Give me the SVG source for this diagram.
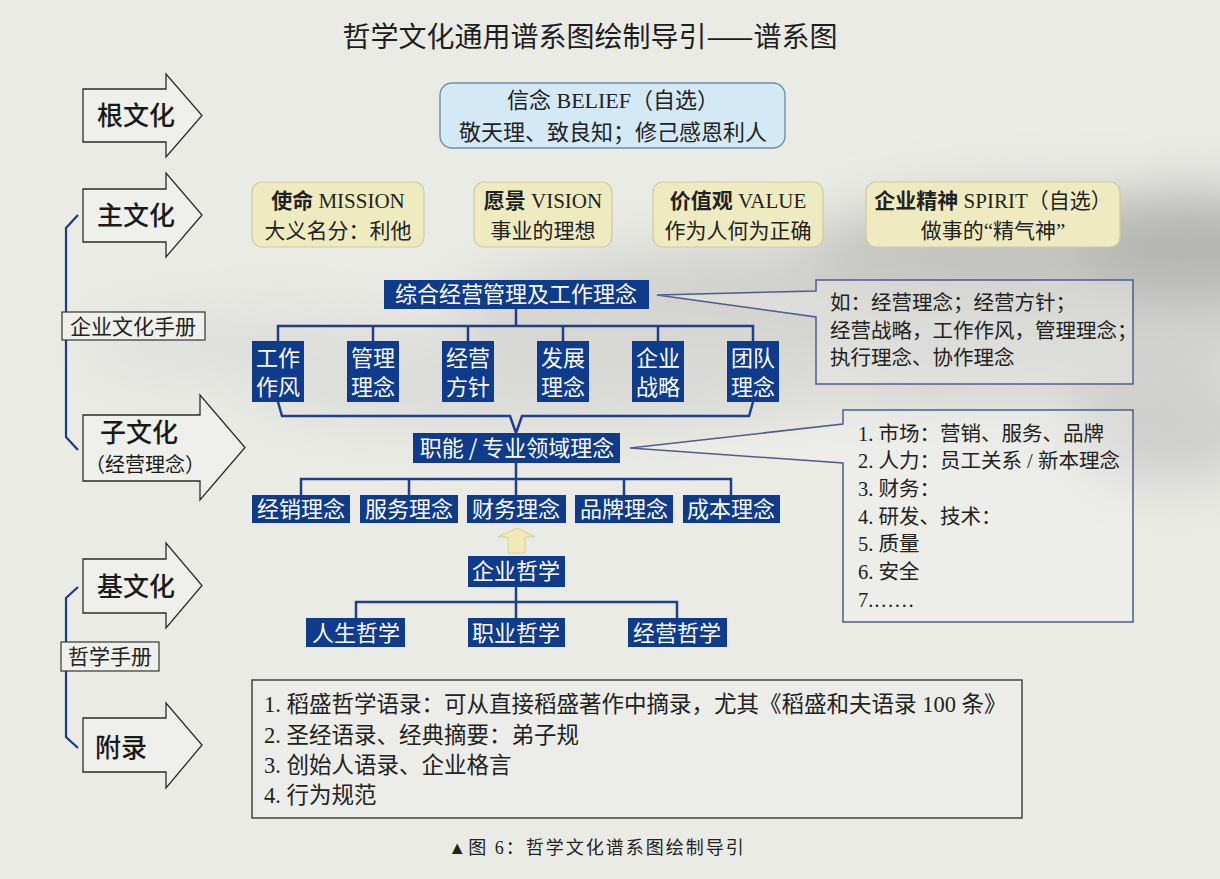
<svg xmlns="http://www.w3.org/2000/svg" width="1220" height="879" viewBox="0 0 1220 879">
<defs>
<filter id="blur" filterUnits="userSpaceOnUse" x="0" y="0" width="1220" height="879"><feGaussianBlur stdDeviation="26"/></filter>
<style>
.arrow{fill:#efefeb;stroke:#2b2b2b;stroke-width:1.3}
.arrowT{font-family:"Noto Sans CJK SC","Noto Sans",sans-serif;font-size:26px;fill:#1a1a1a;font-weight:500}
.yel{fill:#efebc1;stroke:#d0cb9a;stroke-width:1.2}
.yt{font-family:"Liberation Serif","Noto Sans CJK SC",serif;font-size:21px;fill:#222;text-anchor:middle}
.cjkb{font-family:"Noto Sans CJK SC",sans-serif;font-weight:600}
.blue{fill:#0f3b8c}
.bt{font-family:"Noto Sans CJK SC","Noto Sans",sans-serif;font-size:22px;fill:#fff;text-anchor:middle}
.conn{fill:none;stroke:#1c3f8f;stroke-width:2.5}
.brk{fill:none;stroke:#1d3a86;stroke-width:2.2}
.call{fill:#f1f1ed;fill-opacity:0.35;stroke:#4f5c8c;stroke-width:1.5}
.st{font-family:"Liberation Serif","Noto Sans CJK SC",serif;font-size:20.5px;fill:#222}
.ap{font-family:"Liberation Serif","Noto Sans CJK SC",serif;font-size:22.5px;fill:#222}
.lab{fill:#efefeb;stroke:#333;stroke-width:1.2}
</style>
</defs>
<rect width="1220" height="879" fill="#ebebe6"/>
<g filter="url(#blur)">
<ellipse cx="880" cy="320" rx="430" ry="85" fill="#d2d2cf"/>
<ellipse cx="1060" cy="250" rx="260" ry="55" fill="#c4c4c1"/>
<ellipse cx="1190" cy="245" rx="110" ry="55" fill="#b6b6b3"/>
<ellipse cx="560" cy="375" rx="330" ry="55" fill="#d9d9d5"/>
<ellipse cx="280" cy="345" rx="200" ry="40" fill="#dfdfdb"/>
<ellipse cx="1170" cy="430" rx="100" ry="55" fill="#cfcfcc"/>
</g>

<text x="590" y="47" text-anchor="middle" font-family="Noto Sans CJK SC,sans-serif" font-size="28" fill="#1e1e1e">哲学文化通用谱系图绘制导引——谱系图</text>

<g id="brackets">
<path class="brk" d="M78,215 L66,228 V437 L78,450"/>
<path class="brk" d="M78,587 L66,598 V737 L78,748"/>
</g>
<g id="label-handbook">
<rect class="lab" x="62" y="312" width="143" height="28"/>
<text x="133" y="334" text-anchor="middle" font-family="Liberation Serif,Noto Sans CJK SC,serif" font-size="21" fill="#222">企业文化手册</text>
</g>
<g id="label-philo">
<rect class="lab" x="61" y="642" width="98" height="29"/>
<text x="110" y="664" text-anchor="middle" font-family="Liberation Serif,Noto Sans CJK SC,serif" font-size="21" fill="#222">哲学手册</text>
</g>

<g id="arrow-root">
<path class="arrow" d="M83,89 H166 V74 L202,115.5 L166,157 V142 H83 Z"/>
<text class="arrowT" x="97" y="125">根文化</text>
</g>
<g id="arrow-main">
<path class="arrow" d="M83,189 H166 V173 L202,215 L166,257 V242 H83 Z"/>
<text class="arrowT" x="97" y="225">主文化</text>
</g>
<g id="arrow-sub">
<path class="arrow" d="M83,415 H200 V395 L245,447.5 L200,500 V481 H83 Z"/>
<text class="arrowT" x="100" y="442">子文化</text>
<text x="145" y="472" text-anchor="middle" font-family="Noto Sans CJK SC,sans-serif" font-size="20" fill="#1a1a1a">（经营理念）</text>
</g>
<g id="arrow-base">
<path class="arrow" d="M83,559 H166 V543 L202,585.5 L166,628 V613 H83 Z"/>
<text class="arrowT" x="97" y="596">基文化</text>
</g>
<g id="arrow-appendix">
<path class="arrow" d="M83,718 H166 V703 L202,745 L166,788 V772 H83 Z"/>
<text class="arrowT" x="95" y="757">附录</text>
</g>

<g id="belief">
<rect x="440" y="83" width="345" height="65" rx="12" fill="#d3e9f6" stroke="#6e8fae" stroke-width="1.4"/>
<text x="613" y="108" text-anchor="middle" font-family="Liberation Serif,Noto Sans CJK SC,serif" font-size="22" fill="#222"><tspan font-family="Noto Sans CJK SC,sans-serif">信念</tspan> BELIEF<tspan font-family="Noto Sans CJK SC,sans-serif">（自选）</tspan></text>
<text x="613" y="140" text-anchor="middle" font-family="Noto Sans CJK SC,sans-serif" font-size="22" fill="#222">敬天理、致良知；修己感恩利人</text>
</g>

<g id="mission">
<rect class="yel" x="252" y="182" width="172" height="65" rx="10"/>
<text class="yt" x="338" y="208"><tspan class="cjkb">使命</tspan> MISSION</text>
<text class="yt" x="338" y="238">大义名分：利他</text>
</g>
<g id="vision">
<rect class="yel" x="474" y="182" width="138" height="65" rx="10"/>
<text class="yt" x="543" y="208"><tspan class="cjkb">愿景</tspan> VISION</text>
<text class="yt" x="543" y="238">事业的理想</text>
</g>
<g id="value">
<rect class="yel" x="653" y="182" width="170" height="65" rx="10"/>
<text class="yt" x="738" y="208"><tspan class="cjkb">价值观</tspan> VALUE</text>
<text class="yt" x="738" y="238">作为人何为正确</text>
</g>
<g id="spirit">
<rect class="yel" x="866" y="182" width="254" height="65" rx="10"/>
<text class="yt" x="993" y="208"><tspan class="cjkb">企业精神</tspan> SPIRIT<tspan font-family="Noto Sans CJK SC,sans-serif">（自选）</tspan></text>
<text class="yt" x="993" y="238">做事的“精气神”</text>
</g>

<g id="connectors">
<path class="conn" d="M516,309 V326 M278,341 V326 H753 V341 M373,326 V341 M468,326 V341 M563,326 V341 M658,326 V341"/>
<path class="conn" d="M278,402 L282,416 H510 L516,433 L522,416 H749 L753,402"/>
<path class="conn" d="M516,463 V495 M301,495 V479 H731 V495 M409,479 V495 M624,479 V495"/>
<path class="conn" d="M516,587 V618 M356,618 V602 H677 V618"/>
<path d="M517,528 L535,537 H525 V553 H508 V537 H498 Z" fill="#efeab6" stroke="#d6cf94" stroke-width="1"/>
</g>

<g id="n-general">
<rect class="blue" x="384" y="280" width="265" height="29"/>
<text class="bt" x="516" y="302" font-size="21">综合经营管理及工作理念</text>
</g>
<g id="n-workstyle"><rect class="blue" x="252" y="341" width="52" height="61"/><text class="bt" x="278" y="366">工作</text><text class="bt" x="278" y="395">作风</text></g>
<g id="n-mgmt"><rect class="blue" x="347" y="341" width="52" height="61"/><text class="bt" x="373" y="366">管理</text><text class="bt" x="373" y="395">理念</text></g>
<g id="n-policy"><rect class="blue" x="442" y="341" width="52" height="61"/><text class="bt" x="468" y="366">经营</text><text class="bt" x="468" y="395">方针</text></g>
<g id="n-dev"><rect class="blue" x="537" y="341" width="52" height="61"/><text class="bt" x="563" y="366">发展</text><text class="bt" x="563" y="395">理念</text></g>
<g id="n-strategy"><rect class="blue" x="632" y="341" width="52" height="61"/><text class="bt" x="658" y="366">企业</text><text class="bt" x="658" y="395">战略</text></g>
<g id="n-team"><rect class="blue" x="727" y="341" width="52" height="61"/><text class="bt" x="753" y="366">团队</text><text class="bt" x="753" y="395">理念</text></g>

<g id="n-function">
<rect class="blue" x="413" y="433" width="207" height="30"/>
<text class="bt" x="517" y="456" font-size="21">职能 / 专业领域理念</text>
</g>
<g id="n-sales"><rect class="blue" x="252" y="495" width="98" height="28"/><text class="bt" x="301" y="517">经销理念</text></g>
<g id="n-service"><rect class="blue" x="360" y="495" width="98" height="28"/><text class="bt" x="409" y="517">服务理念</text></g>
<g id="n-finance"><rect class="blue" x="467" y="495" width="99" height="28"/><text class="bt" x="516" y="517">财务理念</text></g>
<g id="n-brand"><rect class="blue" x="575" y="495" width="98" height="28"/><text class="bt" x="624" y="517">品牌理念</text></g>
<g id="n-cost"><rect class="blue" x="683" y="495" width="97" height="28"/><text class="bt" x="731" y="517">成本理念</text></g>

<g id="n-philosophy"><rect class="blue" x="468" y="556" width="97" height="31"/><text class="bt" x="516" y="579">企业哲学</text></g>
<g id="n-life"><rect class="blue" x="306" y="618" width="99" height="29"/><text class="bt" x="356" y="641">人生哲学</text></g>
<g id="n-career"><rect class="blue" x="468" y="618" width="97" height="29"/><text class="bt" x="516" y="641">职业哲学</text></g>
<g id="n-business"><rect class="blue" x="628" y="618" width="99" height="29"/><text class="bt" x="677" y="641">经营哲学</text></g>

<g id="callout-general">
<path class="call" d="M816,280 H1133 V384 H816 V317 L657,295 L816,291 Z"/>
<text class="st" x="830" y="310">如：经营理念；经营方针；</text>
<text class="st" x="830" y="338">经营战略，工作作风，管理理念；</text>
<text class="st" x="830" y="365">执行理念、协作理念</text>
</g>
<g id="callout-function">
<path class="call" d="M843,410 H1133 V622 H843 V463 L630,448 L843,424 Z"/>
<text class="st" x="858" y="441">1. 市场：营销、服务、品牌</text>
<text class="st" x="858" y="468">2. 人力：员工关系 / 新本理念</text>
<text class="st" x="858" y="496">3. 财务：</text>
<text class="st" x="858" y="524">4. 研发、技术：</text>
<text class="st" x="858" y="551">5. 质量</text>
<text class="st" x="858" y="579">6. 安全</text>
<text class="st" x="858" y="607">7.……</text>
</g>

<g id="appendix-box">
<rect x="252" y="680" width="770" height="138" fill="#ececE8" stroke="#2b2b2b" stroke-width="1.3"/>
<text class="ap" x="264" y="712">1. 稻盛哲学语录：可从直接稻盛著作中摘录，尤其《稻盛和夫语录 100 条》</text>
<text class="ap" x="264" y="743">2. 圣经语录、经典摘要：弟子规</text>
<text class="ap" x="264" y="773">3. 创始人语录、企业格言</text>
<text class="ap" x="264" y="803">4. 行为规范</text>
</g>

<text x="597" y="854" text-anchor="middle" font-family="Liberation Serif,Noto Sans CJK SC,serif" font-size="18" fill="#222" letter-spacing="2">▲图 6：哲学文化谱系图绘制导引</text>
</svg>
